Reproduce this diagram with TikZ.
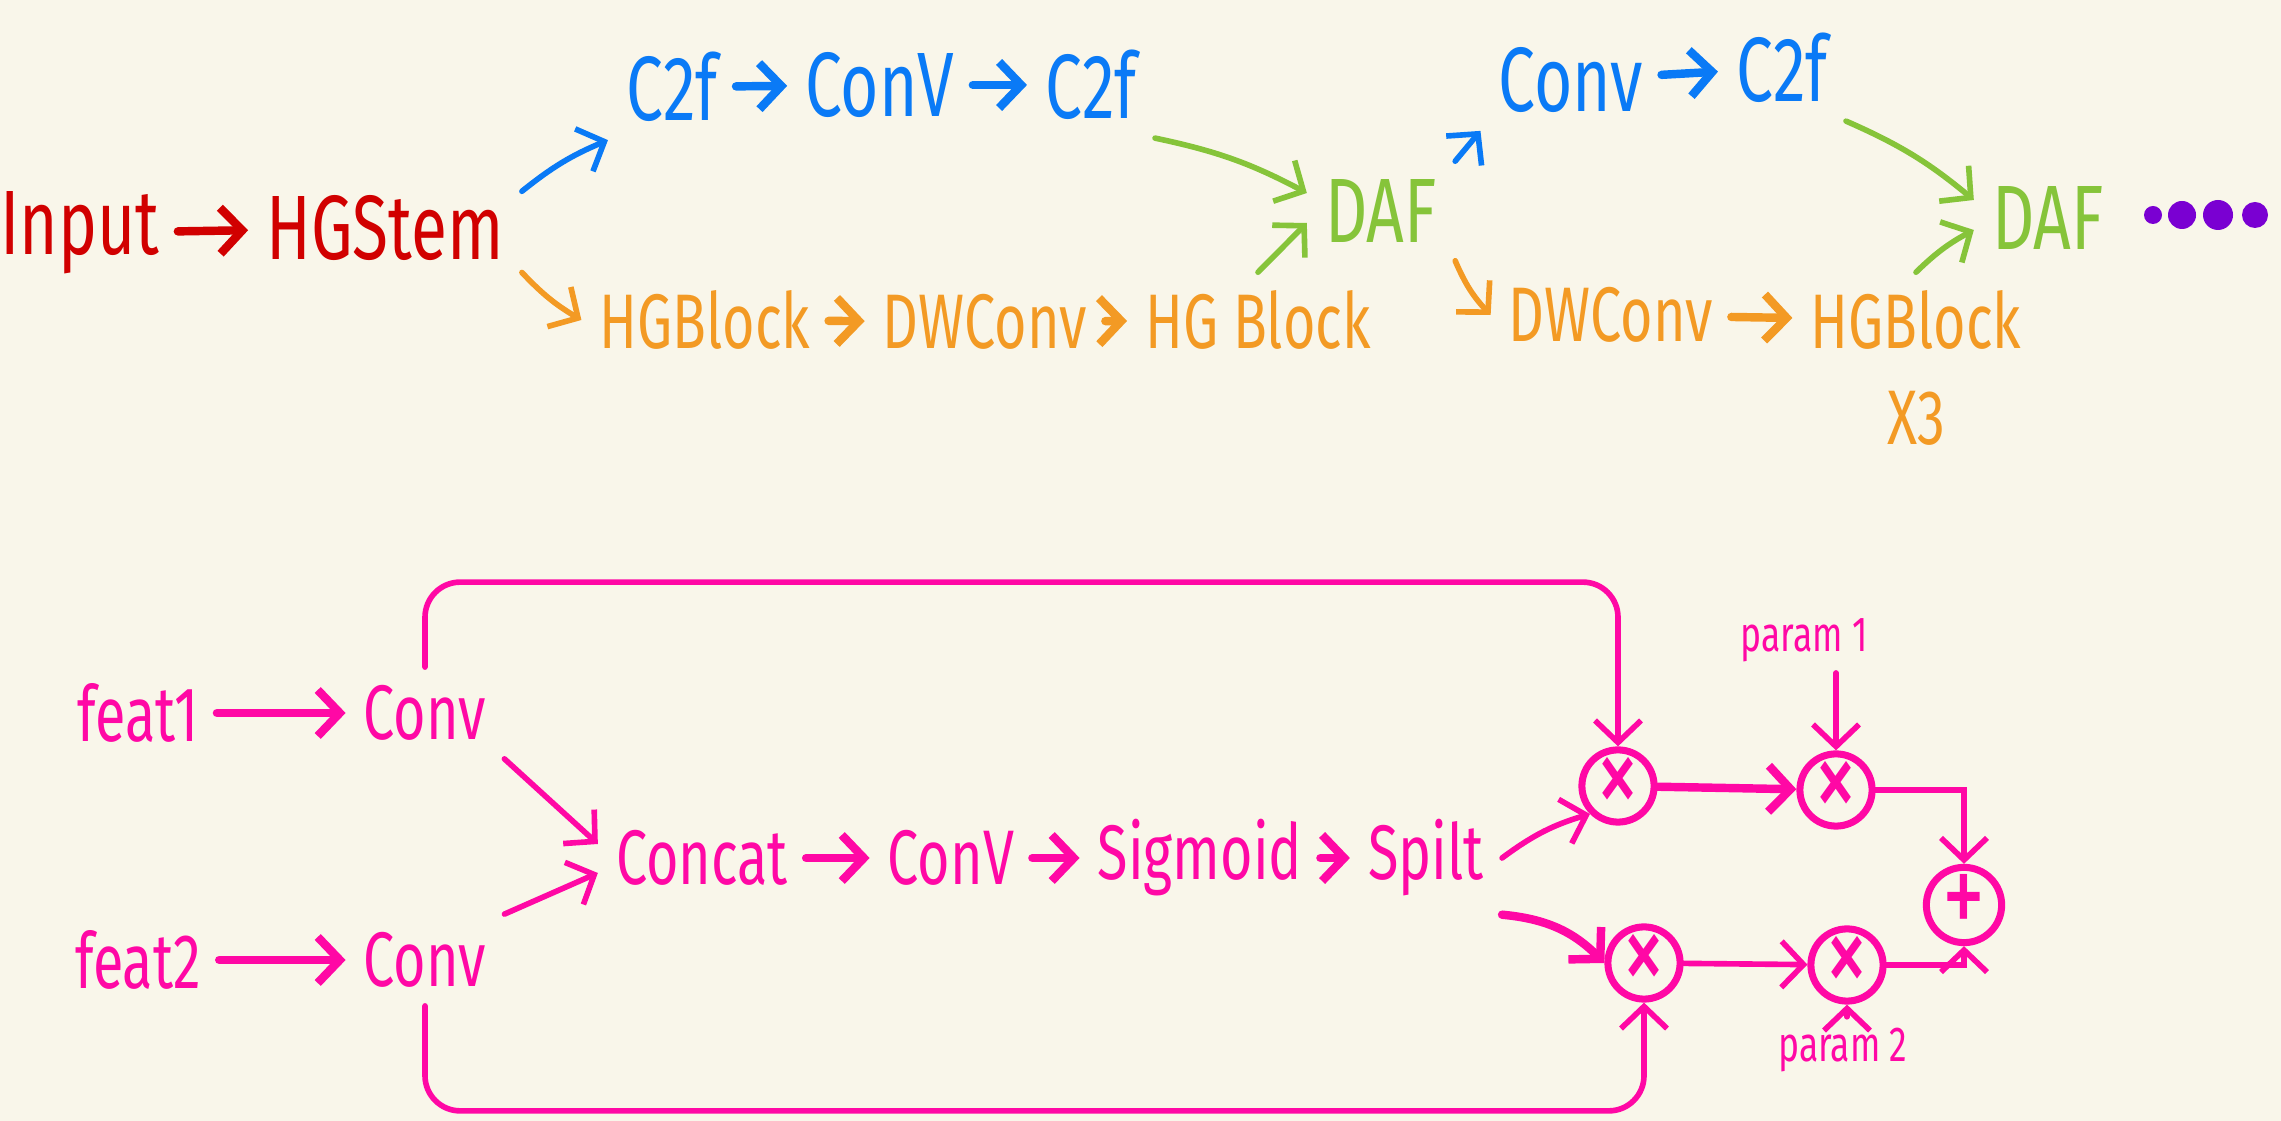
\documentclass[tikz,border=0pt]{standalone}
\usepackage{fontspec}
\setmainfont[FakeStretch=0.72]{Fira Sans}
\usepackage{xcolor}
\usepackage{tikz}
\usetikzlibrary{calc,arrows.meta,positioning}
\definecolor{bgx}{HTML}{F9F6EA}
\definecolor{redx}{HTML}{D10000}
\definecolor{bluex}{HTML}{0A7AF6}
\definecolor{greenx}{HTML}{86C43A}
\definecolor{orangex}{HTML}{F39A24}
\definecolor{purplex}{HTML}{7A00D2}
\definecolor{pinkx}{HTML}{FF08A5}
\tikzset{
  ar/.style={-{Straight Barb[length=2.2mm,width=4.6mm]},line width=2.4pt,line cap=round},
  arl/.style={ar,line width=1.6pt},
  lbl/.style={font=\fontsize{22}{26}\selectfont,inner sep=5pt},
  big/.style={font=\fontsize{26}{30}\selectfont,inner sep=5pt},
  tiny/.style={font=\fontsize{14}{16}\selectfont,inner sep=3pt},
  op/.style={draw,circle,line width=2pt,minimum size=0.64cm,inner sep=0pt,font=\fontsize{34}{34}\selectfont}
}
\begin{document}
\begin{tikzpicture}[x=0.01cm,y=0.01cm]
\useasboundingbox[fill=bgx] (0,0) rectangle (2281,1121);
% backbone
\begin{scope}[color=redx]
\node[big] (inp) at (80,888) {Input};
\node[big] (stem) at (385,893) {HGStem};
\draw[ar] (inp) -- (stem);
\end{scope}
\begin{scope}[color=bluex]
\node[big] (c2fa) at (672,1034) {C2f};
\node[big] (conva) at (880,1036) {ConV};
\node[big] (c2fb) at (1091,1036) {C2f};
\node[big] (convb) at (1571,1041) {Conv};
\node[big] (c2fc) at (1782,1053) {C2f};
\draw[ar] (c2fa) -- (conva);
\draw[ar] (conva) -- (c2fb);
\draw[ar] (convb) -- (c2fc);
\draw[arl] (stem.15) to[bend left=8] (c2fa.south west);
\end{scope}
\begin{scope}[color=orangex]
\node[lbl] (hgba) at (705,801) {HGBlock};
\node[lbl] (dwa) at (985,799) {DWConv};
\node[lbl] (hgbb) at (1258,801) {HG Block};
\node[lbl] (dwb) at (1611,806) {DWConv};
\node[lbl] (hgbc) at (1916,801) {HGBlock};
\node[lbl] (x3) at (1916,703) {X3};
\draw[ar] (hgba) -- (dwa);
\draw[ar] (dwa) -- (hgbb);
\draw[ar] (dwb) -- (hgbc);
\draw[arl] (stem.-18) to[bend right=8] (hgba.west);
\end{scope}
\begin{scope}[color=greenx]
\node[big] (dafa) at (1381,910) {DAF};
\node[big] (dafb) at (2048,903) {DAF};
\draw[arl] (c2fb.south east) to[bend left=8] ($(dafa.west)+(0,18)$);
\draw[arl] (hgbb.north) -- ($(dafa.west)+(0,-12)$);
\draw[arl] (c2fc.south east) to[bend left=8] ($(dafb.west)+(0,18)$);
\draw[arl] (hgbc.north) to[bend left=8] ($(dafb.west)+(0,-12)$);
\end{scope}
\draw[arl,bluex] (dafa.north east) -- (convb.south west);
\draw[arl,orangex] (dafa.south east) to[bend right=10] (dwb.west);
\fill[purplex] (2153,906) circle (0.09cm) (2182,906) circle (0.14cm)
  (2218,906) circle (0.15cm) (2255,906) circle (0.13cm);
% fusion block
\begin{scope}[color=pinkx]
\node[lbl] (f1) at (138,408) {feat1};
\node[lbl] (cv1) at (425,408) {Conv};
\node[lbl] (f2) at (138,161) {feat2};
\node[lbl] (cv2) at (425,161) {Conv};
\node[lbl] (cat) at (702,263) {Concat};
\node[lbl] (cv3) at (951,263) {ConV};
\node[lbl] (sig) at (1200,263) {Sigmoid};
\node[lbl] (spl) at (1426,263) {Spilt};
\node[op] (m1) at (1618,335) {×};
\node[op] (m2) at (1836,331) {×};
\node[op] (m3) at (1644,158) {×};
\node[op] (m4) at (1847,156) {×};
\node[op] (pl) at (1964,216) {+};
\node[tiny] (p1) at (1804,481) {param 1};
\node[tiny] (p2) at (1843,71) {param 2};
\draw[ar] (f1) -- (cv1);
\draw[ar] (f2) -- (cv2);
\draw[arl] (cv1.south east) -- ($(cat.west)+(0,14)$);
\draw[arl] (cv2.north east) -- ($(cat.west)+(0,-15)$);
\draw[ar] (cat) -- (cv3);
\draw[ar] (cv3) -- (sig);
\draw[ar] (sig) -- (spl);
\draw[arl] (spl.east) to[bend left=10] (m1.south west);
\draw[ar] (spl.south east) to[bend left=20] (m3.west);
\draw[ar] (m1) -- (m2);
\draw[arl] (m3) -- (m4);
\draw[arl] (m2.east) -| (pl.north);
\draw[arl] (m4.east) -| (pl.south);
\draw[arl] (p1.south -| m2.north) -- (m2.north);
\draw[arl] (p2.north -| m4.south) -- (m4.south);
\draw[arl,rounded corners=10pt] (cv1.north) -- ++(0,85) -| (m1.north);
\draw[arl,rounded corners=10pt] (cv2.south) -- ++(0,-105) -| (m3.south);
\end{scope}
\end{tikzpicture}
\end{document}
